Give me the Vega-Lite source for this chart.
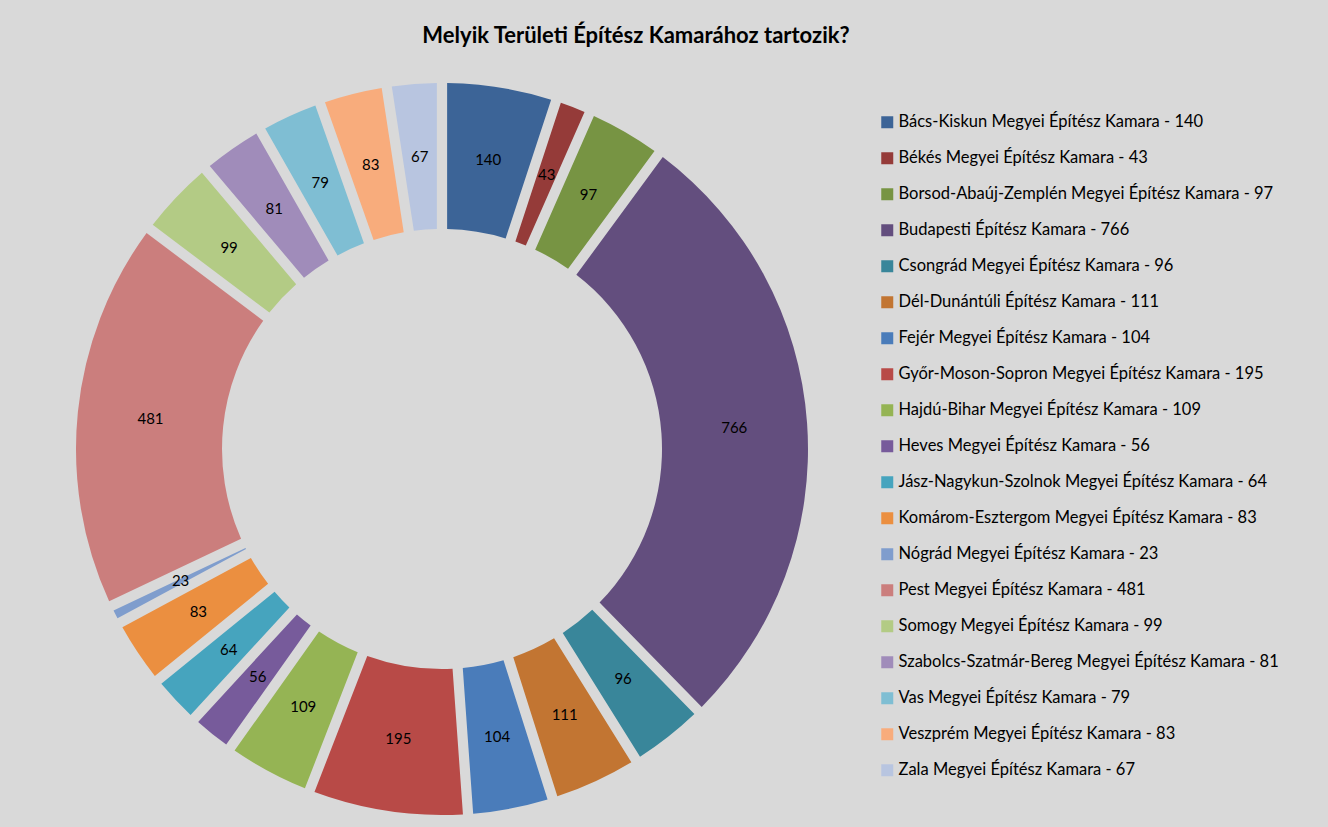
{
  "$schema": "https://vega.github.io/schema/vega-lite/v6.json",
  "width": 866,
  "height": 756,
  "autosize": {"type": "none"},
  "padding": {"left": 9, "top": 71, "right": 453, "bottom": 0},
  "background": "#D9D9D9",
  "config": {"view": {"stroke": null}, "font": "Lato"},
  "title": {
    "text": "Melyik Területi Építész Kamarához tartozik?",
    "fontSize": 22,
    "font": "Lato",
    "fontWeight": "bold",
    "color": "black",
    "anchor": "middle",
    "dx": 194,
    "offset": 23
  },
  "data": {
    "values": [
      {"n": 1, "value": 140, "label": "Bács-Kiskun Megyei Építész Kamara - 140"},
      {"n": 2, "value": 43, "label": "Békés Megyei Építész Kamara - 43"},
      {"n": 3, "value": 97, "label": "Borsod-Abaúj-Zemplén Megyei Építész Kamara - 97"},
      {"n": 4, "value": 766, "label": "Budapesti Építész Kamara - 766"},
      {"n": 5, "value": 96, "label": "Csongrád Megyei Építész Kamara - 96"},
      {"n": 6, "value": 111, "label": "Dél-Dunántúli Építész Kamara - 111"},
      {"n": 7, "value": 104, "label": "Fejér Megyei Építész Kamara - 104"},
      {"n": 8, "value": 195, "label": "Győr-Moson-Sopron Megyei Építész Kamara - 195"},
      {"n": 9, "value": 109, "label": "Hajdú-Bihar Megyei Építész Kamara - 109"},
      {"n": 10, "value": 56, "label": "Heves Megyei Építész Kamara - 56"},
      {"n": 11, "value": 64, "label": "Jász-Nagykun-Szolnok Megyei Építész Kamara - 64"},
      {"n": 12, "value": 83, "label": "Komárom-Esztergom Megyei Építész Kamara - 83"},
      {"n": 13, "value": 23, "label": "Nógrád Megyei Építész Kamara - 23"},
      {"n": 14, "value": 481, "label": "Pest Megyei Építész Kamara - 481"},
      {"n": 15, "value": 99, "label": "Somogy Megyei Építész Kamara - 99"},
      {"n": 16, "value": 81, "label": "Szabolcs-Szatmár-Bereg Megyei Építész Kamara - 81"},
      {"n": 17, "value": 79, "label": "Vas Megyei Építész Kamara - 79"},
      {"n": 18, "value": 83, "label": "Veszprém Megyei Építész Kamara - 83"},
      {"n": 19, "value": 67, "label": "Zala Megyei Építész Kamara - 67"}
    ]
  },
  "encoding": {
    "theta": {"field": "value", "type": "quantitative", "stack": true},
    "order": {"field": "n", "type": "quantitative"}
  },
  "layer": [
    {
      "mark": {"type": "arc", "outerRadius": 366, "innerRadius": 220, "padAngle": 0.024},
      "encoding": {
        "color": {
          "field": "label",
          "type": "nominal",
          "scale": {
            "domain": [
              "Bács-Kiskun Megyei Építész Kamara - 140",
              "Békés Megyei Építész Kamara - 43",
              "Borsod-Abaúj-Zemplén Megyei Építész Kamara - 97",
              "Budapesti Építész Kamara - 766",
              "Csongrád Megyei Építész Kamara - 96",
              "Dél-Dunántúli Építész Kamara - 111",
              "Fejér Megyei Építész Kamara - 104",
              "Győr-Moson-Sopron Megyei Építész Kamara - 195",
              "Hajdú-Bihar Megyei Építész Kamara - 109",
              "Heves Megyei Építész Kamara - 56",
              "Jász-Nagykun-Szolnok Megyei Építész Kamara - 64",
              "Komárom-Esztergom Megyei Építész Kamara - 83",
              "Nógrád Megyei Építész Kamara - 23",
              "Pest Megyei Építész Kamara - 481",
              "Somogy Megyei Építész Kamara - 99",
              "Szabolcs-Szatmár-Bereg Megyei Építész Kamara - 81",
              "Vas Megyei Építész Kamara - 79",
              "Veszprém Megyei Építész Kamara - 83",
              "Zala Megyei Építész Kamara - 67"
            ],
            "range": [
              "#3C6497", "#953B39", "#779443", "#634E7E", "#39869A", "#C27532",
              "#4A7CBA", "#B84A47", "#95B454", "#775B9B", "#46A4BE", "#EB8F40",
              "#7F9DCD", "#CB7E7D", "#B3CB85", "#A08CBA", "#7FBED3", "#F8AC7C",
              "#B8C5E0"
            ]
          },
          "legend": {
            "orient": "none",
            "legendX": 870,
            "legendY": 43,
            "title": null,
            "symbolType": "square",
            "symbolSize": 144,
            "symbolStrokeWidth": 0,
            "labelFontSize": 16.5,
            "labelFont": "Lato",
            "labelColor": "black",
            "labelOffset": 3,
            "labelLimit": 500,
            "rowPadding": 19
          }
        }
      }
    },
    {
      "mark": {"type": "text", "radius": 293, "fontSize": 15, "font": "Lato"},
      "encoding": {
        "text": {"field": "value", "type": "quantitative"},
        "color": {"value": "black"}
      }
    }
  ]
}
